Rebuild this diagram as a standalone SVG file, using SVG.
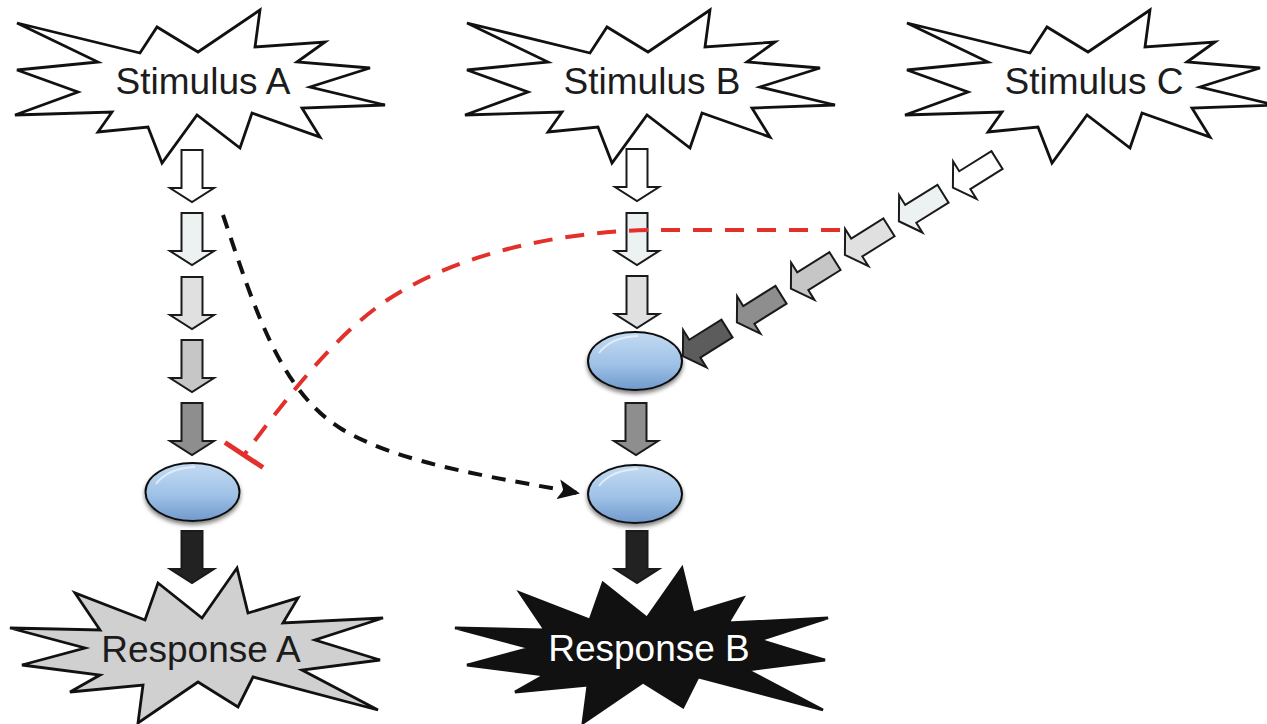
<svg xmlns="http://www.w3.org/2000/svg" width="1267" height="724" viewBox="0 0 1267 724">
<style>
.star{stroke:#111;stroke-width:2.8;stroke-linejoin:miter}
.lbl{font-family:"Liberation Sans",Arial,sans-serif;font-size:37px;text-anchor:middle;fill:#1c1c1c}
.arr{stroke:#1a1a1a;stroke-width:2;stroke-linejoin:miter}
.cell{fill:url(#blue);stroke:#111;stroke-width:2}
.hl{fill:none;stroke:#eaf3fc;stroke-width:2;opacity:0.8}
.act{fill:none;stroke:#111;stroke-width:4;stroke-dasharray:14 10}
.inh{fill:none;stroke:#e3302a;stroke-width:4;stroke-dasharray:19 13}
</style>
<defs>
<path id="star" d="M17,23 L140,53 L157,27 L198,52 L260,10 L255,47 L325,42 L297,62 L370,68 L310,87 L385,105 L302,108 L320,137 L252,113 L240,148 L197,115 L162,163 L148,127 L98,132 L112,112 L15,115 L78,92 L17,70 L98,62 Z"/>
<path id="rstar" d="M10,628 L100,630 L75,593 L145,620 L158,583 L202,618 L237,568 L248,613 L298,598 L283,623 L383,618 L315,640 L380,660 L302,670 L378,710 L253,677 L238,707 L198,682 L138,723 L143,685 L70,692 L100,675 L22,665 L85,648 Z"/>
<path id="ar" d="M-10.5,0 H10.5 V38 H22 L0,52 L-22,38 H-10.5 Z"/>
<linearGradient id="blue" x1="0" y1="0" x2="0" y2="1">
<stop offset="0" stop-color="#c4dbf2"/>
<stop offset="0.55" stop-color="#9fc2e7"/>
<stop offset="1" stop-color="#7099cc"/>
</linearGradient>
<filter id="sh" x="-20%" y="-20%" width="140%" height="150%">
<feGaussianBlur in="SourceAlpha" stdDeviation="2"/>
<feOffset dy="3" result="b"/>
<feComponentTransfer><feFuncA type="linear" slope="0.5"/></feComponentTransfer>
<feMerge><feMergeNode/><feMergeNode in="SourceGraphic"/></feMerge>
</filter>
<marker id="ah" viewBox="0 0 22 20" refX="20" refY="10" markerWidth="22" markerHeight="20" markerUnits="userSpaceOnUse" orient="auto">
<path d="M0,0 L22,10 L0,20 L5,10 Z" fill="#111"/>
</marker>
</defs>
<rect width="1267" height="724" fill="#fff"/>

<g id="stimulusA">
<use href="#star" class="star" fill="#fff"/>
<text class="lbl" x="203" y="94">Stimulus A</text>
</g>
<g id="stimulusB">
<use href="#star" class="star" fill="#fff" transform="translate(450,0)"/>
<text class="lbl" x="652" y="94">Stimulus B</text>
</g>
<g id="stimulusC">
<use href="#star" class="star" fill="#fff" transform="translate(890,0)"/>
<text class="lbl" x="1094" y="94">Stimulus C</text>
</g>
<g id="responseA">
<use href="#rstar" class="star" fill="#d0d0d0"/>
<text class="lbl" x="201" y="662">Response A</text>
</g>
<g id="responseB">
<use href="#rstar" class="star" fill="#111" transform="translate(445,0)"/>
<text class="lbl" x="649" y="661" style="fill:#fff">Response B</text>
</g>
<g id="effectorA" filter="url(#sh)">
<ellipse class="cell" cx="192.5" cy="492" rx="47" ry="29"/>
<path class="hl" d="M156,484 Q168,468 195,467"/>
</g>
<g id="effectorB1" filter="url(#sh)">
<ellipse class="cell" cx="635" cy="361" rx="47" ry="29"/>
<path class="hl" d="M599,353 Q611,337 638,336"/>
</g>
<g id="effectorB2" filter="url(#sh)">
<ellipse class="cell" cx="635" cy="494" rx="47" ry="29"/>
<path class="hl" d="M599,486 Q611,470 638,469"/>
</g>

<g id="connectors">
<use href="#ar" class="arr" fill="#ffffff" transform="translate(192,150)"/>
<use href="#ar" class="arr" fill="#ecf1f1" transform="translate(192,213)"/>
<use href="#ar" class="arr" fill="#e0e0e0" transform="translate(192,277)"/>
<use href="#ar" class="arr" fill="#c6c6c6" transform="translate(192,340)"/>
<use href="#ar" class="arr" fill="#8e8e8e" transform="translate(192,403)"/>
<use href="#ar" class="arr" fill="#222" transform="translate(192,531)"/>

<use href="#ar" class="arr" fill="#ffffff" transform="translate(637,149)"/>
<use href="#ar" class="arr" fill="#ecf1f1" transform="translate(637,213)"/>
<use href="#ar" class="arr" fill="#e0e0e0" transform="translate(637,276)"/>
<use href="#ar" class="arr" fill="#8e8e8e" transform="translate(636,403)"/>
<use href="#ar" class="arr" fill="#222" transform="translate(637,531)"/>

<use href="#ar" class="arr" fill="#ffffff" transform="translate(997,160) rotate(58)"/>
<use href="#ar" class="arr" fill="#ecf1f1" transform="translate(943,193.7) rotate(58)"/>
<use href="#ar" class="arr" fill="#e0e0e0" transform="translate(889,227.4) rotate(58)"/>
<use href="#ar" class="arr" fill="#c6c6c6" transform="translate(835,261.1) rotate(58)"/>
<use href="#ar" class="arr" fill="#8e8e8e" transform="translate(781,294.8) rotate(58)"/>
<use href="#ar" class="arr" fill="#5c5c5c" transform="translate(727,328.5) rotate(58)"/>

<path class="act" d="M223,215 C255,310 280,390 340,428 C400,465 500,478 578,493" marker-end="url(#ah)"/>
<path class="inh" d="M840,230 L660,230 C560,230 450,255 380,305 C330,341 283,403 244,455"/>
<line x1="225" y1="442.5" x2="263" y2="467.5" stroke="#e3302a" stroke-width="5"/>
</g>
</svg>
